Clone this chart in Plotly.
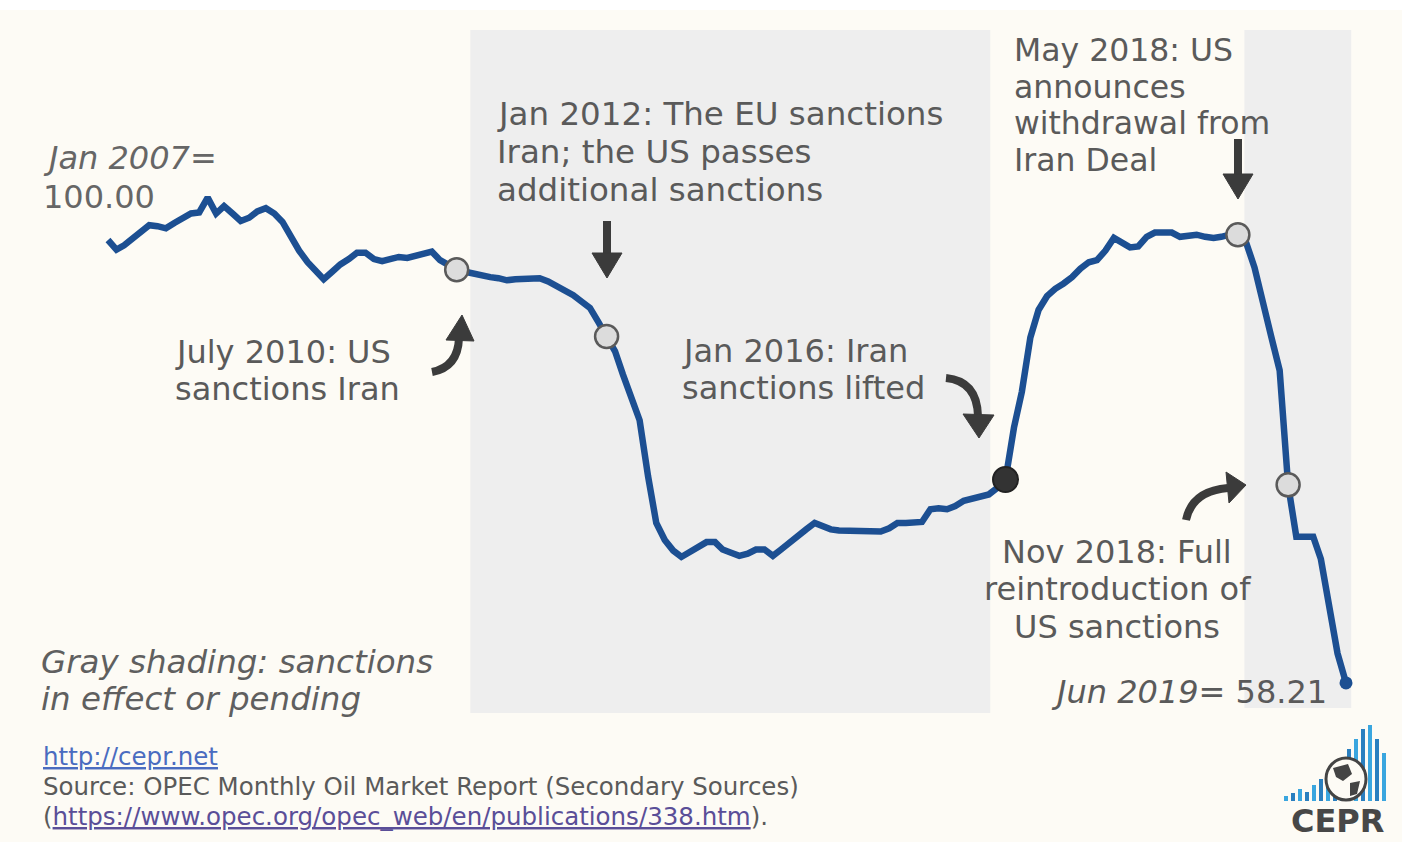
import plotly.graph_objects as go
import pandas as pd

# ---------------- data ----------------
start_month = "2007-01-01"
end_month = "2019-06-01"
index_values = [
    100.0, 99.1, 99.5, 100.2, 100.8, 101.4, 101.3, 101.1, 101.6, 102.1, 102.5, 102.6,   # 2007
    104.0, 102.5, 103.2, 102.5, 101.8, 102.1, 102.7, 103.0, 102.5, 101.7, 100.2, 99.0,  # 2008
    97.9, 97.0, 96.3, 97.0, 97.7, 98.2, 98.8, 98.8, 98.2, 98.0, 98.2, 98.4,             # 2009
    98.3, 98.5, 98.8, 98.9, 98.1, 97.6, 97.2, 97.0, 96.8, 96.7, 96.5, 96.4,             # 2010
    96.2, 96.3, 96.3, 96.4, 96.4, 96.1, 95.7, 95.2, 94.8, 94.2, 93.6, 92.3,             # 2011
    90.9, 89.5, 87.3, 85.0, 83.0, 77.7, 73.3, 71.7, 70.7, 70.1, 70.6, 71.0,             # 2012
    71.5, 71.5, 70.8, 70.5, 70.2, 70.4, 70.8, 70.8, 70.2, 70.8, 71.5, 72.1,             # 2013
    72.7, 73.3, 73.0, 72.7, 72.6, 72.6, 72.6, 72.6, 72.6, 72.5, 72.8, 73.3,             # 2014
    73.3, 73.3, 73.4, 74.6, 74.7, 74.6, 74.9, 75.4, 75.6, 75.8, 76.0, 76.6,             # 2015
    77.4, 82.3, 85.7, 90.8, 93.4, 94.7, 95.4, 95.9, 96.5, 97.3, 97.9, 98.1,             # 2016
    99.0, 100.2, 99.8, 99.3, 99.4, 100.3, 100.7, 100.7, 100.7, 100.3, 100.4, 100.5,     # 2017
    100.3, 100.2, 100.3, 100.5, 100.5, 99.7, 97.4, 93.9, 90.8, 87.7, 76.9, 72.0,        # 2018
    72.0, 72.0, 69.9, 65.3, 61.0, 58.21,                                                # 2019
]
event_months_light = ["2010-07-01", "2012-01-01", "2018-05-01", "2018-11-01"]
event_months_dark = ["2016-01-01"]
sanction_periods = [("2010-08-20", "2015-11-06"), ("2018-05-25", "2019-06-20")]

# ---------------- layout constants ----------------
W, H = 1402, 842
X_START_PX, X_END_PX = 108, 1346
Y100_PX, PX_PER_UNIT = 240, 10.6

TEXT = "#5a5a5a"
LINE = "#1c4f92"
ARROW = "#3b3b3b"
BG = "#fdfbf5"
SHADE = "#eeeeee"
FONT = "DejaVu Sans"

months = pd.date_range(start_month, end_month, freq="MS")
series = pd.Series(index_values, index=months)

t0, t1 = pd.Timestamp(start_month), pd.Timestamp(end_month)
span_days = (t1 - t0).days
ppd = (X_END_PX - X_START_PX) / span_days
x_left = t0 - pd.Timedelta(days=X_START_PX / ppd)
x_right = t1 + pd.Timedelta(days=(W - X_END_PX) / ppd)
y_top = 100 + Y100_PX / PX_PER_UNIT
y_bot = 100 - (H - Y100_PX) / PX_PER_UNIT


def px(x):
    return x / W


def py(y):
    return 1 - y / H


fig = go.Figure()

fig.add_trace(go.Scatter(
    x=series.index, y=series.values, mode="lines",
    line=dict(color=LINE, width=6.5), hoverinfo="x+y", showlegend=False))

light = pd.to_datetime(event_months_light)
fig.add_trace(go.Scatter(
    x=light, y=series.loc[light].values, mode="markers",
    marker=dict(size=23, color="#dcdcdc", line=dict(color="#5a5a5a", width=2.5)),
    showlegend=False))
dark = pd.to_datetime(event_months_dark)
fig.add_trace(go.Scatter(
    x=dark, y=series.loc[dark].values, mode="markers",
    marker=dict(size=25, color="#333333", line=dict(color="#222222", width=2)),
    showlegend=False))
fig.add_trace(go.Scatter(
    x=[series.index[-1]], y=[series.values[-1]], mode="markers",
    marker=dict(size=13, color=LINE), showlegend=False))

shapes = []
# white strip at top
shapes.append(dict(type="rect", xref="paper", yref="paper", x0=0, x1=1, y0=py(10), y1=1,
                   fillcolor="white", line=dict(width=0), layer="below"))
# sanction shading
bottoms = [713, 708]
for (a, b), bt in zip(sanction_periods, bottoms):
    shapes.append(dict(type="rect", xref="x", yref="paper", x0=a, x1=b,
                       y0=py(bt), y1=py(30), fillcolor=SHADE, line=dict(width=0), layer="below"))


def curve(p0, c, p1):
    return dict(type="path", xref="paper", yref="paper",
                path=f"M {px(p0[0])},{py(p0[1])} Q {px(c[0])},{py(c[1])} {px(p1[0])},{py(p1[1])}",
                line=dict(color=ARROW, width=8))


def straight(p0, p1):
    return dict(type="line", xref="paper", yref="paper",
                x0=px(p0[0]), y0=py(p0[1]), x1=px(p1[0]), y1=py(p1[1]),
                line=dict(color=ARROW, width=8))


def head(tip, b1, b2):
    return dict(type="path", xref="paper", yref="paper",
                path=f"M {px(tip[0])},{py(tip[1])} L {px(b1[0])},{py(b1[1])} L {px(b2[0])},{py(b2[1])} Z",
                fillcolor=ARROW, line=dict(color=ARROW, width=1))


# July 2010 arrow (curved, pointing up)
shapes.append(curve((432, 372), (458, 367), (459, 338)))
shapes.append(head((462, 315), (446, 340), (474, 341)))
# Jan 2012 arrow (down)
shapes.append(straight((607, 221), (607, 257)))
shapes.append(head((607, 278), (592, 253), (622, 253)))
# Jan 2016 arrow (curved, pointing down)
shapes.append(curve((946, 378), (977, 381), (978, 416)))
shapes.append(head((979, 438), (963, 414), (994, 415)))
# May 2018 arrow (down)
shapes.append(straight((1238, 139), (1238, 176)))
shapes.append(head((1238, 199), (1223, 174), (1253, 174)))
# Nov 2018 arrow (curved, pointing right)
shapes.append(curve((1186, 520), (1192, 491), (1228, 488)))
shapes.append(head((1246, 485), (1226, 472), (1229, 503)))

# CEPR logo bars
bar_heights = [5, 8, 12, 9, 16, 22, 19, 30, 42, 52, 62, 72, 76, 62, 48]
for i, h in enumerate(bar_heights):
    x0 = 1284 + i * 7
    col = "#3aa6df" if i % 2 == 0 else "#2a7fbf"
    shapes.append(dict(type="rect", xref="paper", yref="paper",
                       x0=px(x0), x1=px(x0 + 4), y0=py(801), y1=py(801 - h),
                       fillcolor=col, line=dict(width=0)))
shapes.append(dict(type="circle", xref="paper", yref="paper",
                   x0=px(1326), x1=px(1366), y0=py(800), y1=py(758),
                   fillcolor=BG, line=dict(color="#444444", width=3)))
shapes.append(dict(type="path", xref="paper", yref="paper",
                   path=f"M {px(1333)},{py(768)} L {px(1348)},{py(764)} L {px(1352)},{py(774)} "
                        f"L {px(1343)},{py(781)} L {px(1336)},{py(777)} Z",
                   fillcolor="#444444", line=dict(width=0)))
shapes.append(dict(type="path", xref="paper", yref="paper",
                   path=f"M {px(1350)},{py(783)} L {px(1360)},{py(781)} L {px(1357)},{py(794)} "
                        f"L {px(1350)},{py(796)} Z",
                   fillcolor="#444444", line=dict(width=0)))

annotations = []


def add_lines(lines, x, ys, anchor="left", size=32, color=TEXT, italic=False):
    for t, y in zip(lines, ys):
        txt = f"<i>{t}</i>" if italic else t
        annotations.append(dict(xref="paper", yref="paper", x=px(x), y=py(y),
                                xanchor=anchor, yanchor="middle", text=txt, showarrow=False,
                                font=dict(family=FONT, size=size, color=color)))


add_lines(["<i>Jan 2007=</i>", "100.00"], 41, [158, 197], color="#666666")
add_lines(["July 2010: US", "sanctions Iran"], 173, [352, 389])
add_lines(["Jan 2012: The EU sanctions", "Iran; the US passes", "additional sanctions"],
          495, [114, 152, 190], size=32.5)
add_lines(["Jan 2016: Iran", "sanctions lifted"], 680, [351, 388])
add_lines(["May 2018: US", "announces", "withdrawal from", "Iran Deal"],
          1012, [50, 87, 123, 160], size=31.5)
add_lines(["Nov 2018: Full", "reintroduction of", "US sanctions"], 1117, [552, 589, 627],
          anchor="center")
add_lines(["Gray shading: sanctions", "in effect or pending"], 39, [662, 699],
          italic=True, color="#5f5f5f", size=32.5)
add_lines(["<i>Jun 2019=</i> 58.21"], 1329, [692], anchor="right")

# footer
FS = 24.5
add_lines(["<span style='color:#4a6cc0'><u>http://cepr.net</u></span>"], 41, [756], size=FS)
add_lines(["Source: OPEC Monthly Oil Market Report (Secondary Sources)"], 41, [786], size=FS)
add_lines(["(<span style='color:#5a4e98'><u>https://www.opec.org/opec_web/en/publications/338.htm</u></span>)."],
          41, [816], size=FS)
annotations.append(dict(xref="paper", yref="paper", x=px(1337), y=py(821),
                        xanchor="center", yanchor="middle", text="<b>CEPR</b>", showarrow=False,
                        font=dict(family=FONT, size=32, color="#474747")))

fig.update_layout(
    width=W, height=H,
    margin=dict(l=0, r=0, t=0, b=0),
    paper_bgcolor=BG, plot_bgcolor=BG,
    showlegend=False,
    xaxis=dict(type="date", range=[x_left, x_right], visible=False, fixedrange=True),
    yaxis=dict(range=[y_bot, y_top], visible=False, fixedrange=True),
    shapes=shapes,
    annotations=annotations,
)

fig.write_html("out.html", config={"displayModeBar": False},
               post_script="document.body.style.margin='0';document.body.style.overflow='hidden';")
